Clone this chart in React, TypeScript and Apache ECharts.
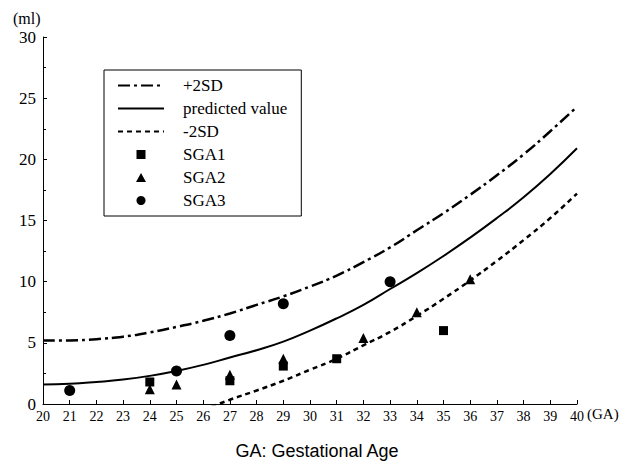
import React, { useEffect, useRef } from "react";
import * as echarts from "echarts";

const GA = [20, 21, 22, 23, 24, 25, 26, 27, 28, 29, 30, 31, 32, 33, 34, 35, 36, 37, 38, 39, 40];
const PLUS_2SD = [5.2, 5.2, 5.3, 5.5, 5.85, 6.3, 6.8, 7.4, 8.1, 8.8, 9.6, 10.5, 11.6, 12.8, 14.2, 15.6, 17.1, 18.7, 20.4, 22.3, 24.3];
const PREDICTED = [1.6, 1.65, 1.8, 2.0, 2.3, 2.7, 3.2, 3.8, 4.4, 5.1, 6.0, 7.0, 8.1, 9.4, 10.7, 12.1, 13.6, 15.2, 16.9, 18.8, 20.9];
const MINUS_2SD: (number | null)[] = [null, null, null, null, null, null, -0.5, 0.35, 1.1, 1.9, 2.8, 3.7, 4.8, 5.9, 7.2, 8.6, 10.1, 11.7, 13.4, 15.2, 17.2];

const SGA1_GA = [24, 27, 29, 31, 35];
const SGA1_ML = [1.8, 1.9, 3.1, 3.7, 6.0];
const SGA2_GA = [24, 25, 27, 29, 32, 34, 36];
const SGA2_ML = [1.2, 1.6, 2.4, 3.7, 5.4, 7.5, 10.2];
const SGA3_GA = [21, 25, 27, 29, 33];
const SGA3_ML = [1.1, 2.7, 5.6, 8.2, 10.0];

const Y_TICKS = [0, 5, 10, 15, 20, 25, 30];
const LINE_NAMES = ["+2SD", "predicted value", "-2SD"];
const MARK_NAMES = ["SGA1", "SGA2", "SGA3"];

// legend icons drawn in a 46x9 box, with tiny anchors at the corners so the marker keeps its own size
const ANCHORS = "M0 0L0.01 0L0 0.01Z M46 9L45.99 9L46 8.99Z ";
const MARK_ICONS = [
  "path://" + ANCHORS + "M18.5 0H27.5V9H18.5Z",
  "path://" + ANCHORS + "M18 9L28 9L23 0Z",
  "circle",
];

const SERIF = "'Liberation Serif', 'Times New Roman', serif";
const SANS = "'Liberation Sans', Arial, sans-serif";

const pairs = (xs: number[], ys: (number | null)[]) => xs.map((x, i) => [x, ys[i]]);

export default function App() {
  const ref = useRef<HTMLDivElement>(null);
  useEffect(() => {
    if (!ref.current) return;
    const chart = echarts.init(ref.current, undefined, { renderer: "svg" });
    chart.setOption({
      animation: false,
      backgroundColor: "#fff",
      grid: { left: 43, right: 58, top: 37, bottom: 61, containLabel: false },
      xAxis: {
        type: "value",
        min: GA[0],
        max: GA[GA.length - 1],
        interval: 1,
        axisLine: { lineStyle: { color: "#000", width: 1 } },
        axisTick: { inside: true, length: 4, lineStyle: { color: "#000" } },
        axisLabel: { color: "#000", fontFamily: SERIF, fontSize: 14, margin: 5 },
        splitLine: { show: false },
      },
      yAxis: {
        type: "value",
        min: Y_TICKS[0],
        max: Y_TICKS[Y_TICKS.length - 1],
        interval: 5,
        axisLine: { show: true, lineStyle: { color: "#000", width: 1 } },
        axisTick: { show: true, inside: true, length: 4, lineStyle: { color: "#000" } },
        minorTick: { show: true, splitNumber: 2, length: 3, lineStyle: { color: "#000" } },
        axisLabel: { color: "#000", fontFamily: SERIF, fontSize: 17, margin: 7 },
        splitLine: { show: false },
      },
      legend: {
        orient: "vertical",
        left: 104,
        top: 70,
        data: [
          ...LINE_NAMES.map((name) => ({ name, itemStyle: { opacity: 0, color: "transparent", borderWidth: 0 } })),
          ...MARK_NAMES.map((name, i) => ({ name, icon: MARK_ICONS[i] })),
        ],
        borderColor: "#000",
        borderWidth: 1,
        padding: [7, 14, 7, 13],
        itemWidth: 46,
        itemHeight: 9,
        itemGap: 6,
        textStyle: { color: "#000", fontFamily: SERIF, fontSize: 17, padding: [0, 0, 0, 14] },
      },
      graphic: [
        { type: "text", left: 13, top: 10, style: { text: "(ml)", fill: "#000", font: `16px ${SERIF}` } },
        { type: "text", left: 587, top: 406, style: { text: "(GA)", fill: "#000", font: `15px ${SERIF}` } },
        { type: "text", left: "center", top: 442, style: { text: "GA: Gestational Age", fill: "#000", font: `18px ${SANS}` } },
      ],
      series: [
        {
          name: "+2SD",
          type: "line",
          data: pairs(GA, PLUS_2SD),
          smooth: true,
          symbol: "none",
          lineStyle: { color: "#000", width: 2.5, type: [12, 4, 3, 4] },
          itemStyle: { color: "#000" },
        },
        {
          name: "predicted value",
          type: "line",
          data: pairs(GA, PREDICTED),
          smooth: true,
          symbol: "none",
          lineStyle: { color: "#000", width: 2 },
          itemStyle: { color: "#000" },
        },
        {
          name: "-2SD",
          type: "line",
          data: pairs(GA, MINUS_2SD),
          smooth: true,
          symbol: "none",
          clip: true,
          lineStyle: { color: "#000", width: 2.5, type: [5, 4] },
          itemStyle: { color: "#000" },
        },
        {
          name: "SGA1",
          type: "scatter",
          symbol: "rect",
          symbolSize: 9,
          data: pairs(SGA1_GA, SGA1_ML),
          itemStyle: { color: "#000", opacity: 1 },
        },
        {
          name: "SGA2",
          type: "scatter",
          symbol: "triangle",
          symbolSize: 10,
          data: pairs(SGA2_GA, SGA2_ML),
          itemStyle: { color: "#000", opacity: 1 },
        },
        {
          name: "SGA3",
          type: "scatter",
          symbol: "circle",
          symbolSize: 11,
          data: pairs(SGA3_GA, SGA3_ML),
          itemStyle: { color: "#000", opacity: 1 },
        },
      ],
    });
    return () => chart.dispose();
  }, []);
  return <div ref={ref} style={{ position: "absolute", left: 0, top: 0, width: 635, height: 465 }} />;
}
